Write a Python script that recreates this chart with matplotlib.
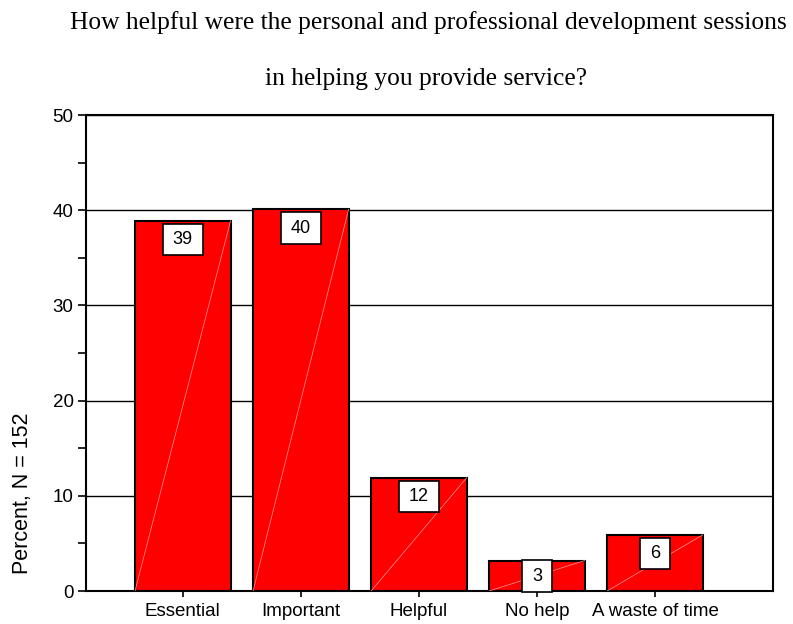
import matplotlib
matplotlib.use("Agg")
import matplotlib.pyplot as plt
from matplotlib.path import Path
from matplotlib.ticker import MultipleLocator

# Survey responses (percent of N = 152)
categories = ["Essential", "Important", "Helpful", "No help", "A waste of time"]
percents = [38.9, 40.1, 11.9, 3.2, 5.9]
title_lines = ["How helpful were the personal and professional development sessions",
               "in helping you provide service?"]
y_label = "Percent, N = 152"

W, H = 793, 624
fig = plt.figure(figsize=(W / 100, H / 100), dpi=100)
ax = fig.add_axes([86 / W, 1 - 591 / H, (773 - 86) / W, (591 - 115) / H])


def label_box(x0, y0, width, height, mutation_size):
    """Rectangle with wider horizontal than vertical padding."""
    px = 0.55 * mutation_size
    py = 0.40 * mutation_size
    xa, xb = x0 - px, x0 + width + px
    ya, yb = y0 - py, y0 + height + py
    return Path([(xa, ya), (xb, ya), (xb, yb), (xa, yb), (xa, ya)], closed=True)


x = list(range(len(categories)))
bar_w = 0.81
bars = ax.bar(x, percents, width=bar_w, color="#ff0000", edgecolor="black",
              linewidth=1.5, zorder=2)

# faint diagonal running across each bar
for b in bars:
    x0 = b.get_x()
    ax.plot([x0, x0 + b.get_width()], [0, b.get_height()], color="#ff9c9c",
            lw=0.5, zorder=3)

# value boxes just under each bar top; short bars keep the box above the baseline
min_anchor = 3.55
for xi, v in zip(x, percents):
    ax.annotate(f"{round(v)}", xy=(xi, max(v, min_anchor)), xytext=(0, -7.5),
                textcoords="offset points", ha="center", va="top", fontsize=13,
                family="Liberation Sans",
                bbox=dict(boxstyle=label_box, fc="white", ec="black", lw=1.2),
                zorder=4)

ax.set_xlim(-0.82, 5.0)
ax.set_ylim(0, 50)
ax.yaxis.set_major_locator(MultipleLocator(10))
ax.yaxis.set_minor_locator(MultipleLocator(5))
ax.yaxis.grid(True, which="major", color="black", lw=1.0, zorder=0)
ax.set_axisbelow(True)

ax.set_xticks(x)
ax.set_xticklabels(categories, family="Liberation Sans", fontsize=13.5)
for lbl in ax.get_yticklabels():
    lbl.set_family("Liberation Sans")
    lbl.set_fontsize(13.5)
ax.tick_params(axis="y", which="both", direction="out", length=6, width=1.2, pad=3)
ax.tick_params(axis="x", direction="out", length=4.5, width=1.2, pad=4)

for s in ax.spines.values():
    s.set_linewidth(1.5)

fig.text(22.5 / W, 1 - 493 / H, y_label, rotation=90, ha="center", va="center",
         family="Liberation Sans", fontsize=15.5)

fig.text(70 / W, 1 - 29 / H, title_lines[0], ha="left", va="baseline",
         family="Liberation Serif", fontsize=18.4)
fig.text(426 / W, 1 - 85 / H, title_lines[1], ha="center", va="baseline",
         family="Liberation Serif", fontsize=18.4)

fig.savefig("out.png", dpi=100)
